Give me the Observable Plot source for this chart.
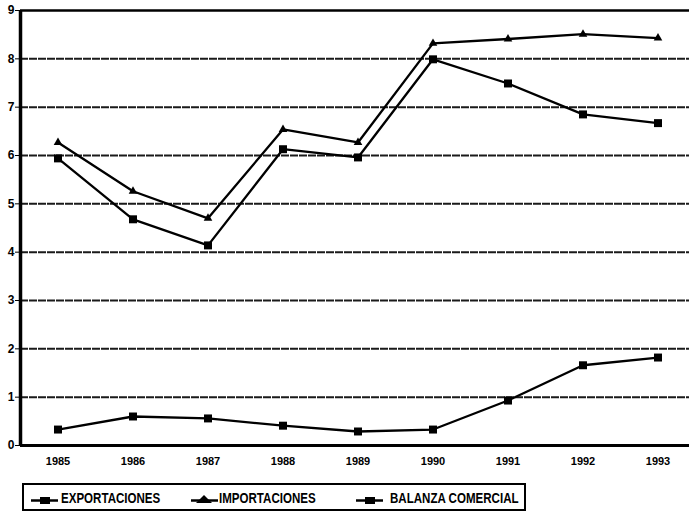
<!DOCTYPE html>
<html><head><meta charset="utf-8">
<script src="https://cdn.jsdelivr.net/npm/d3@7"></script>
<script src="https://cdn.jsdelivr.net/npm/@observablehq/plot@0.6"></script>
<style>
html,body{margin:0;padding:0;background:#fff;}
#wrap{position:relative;width:689px;height:523px;overflow:hidden;font-family:"Liberation Sans",Arial,sans-serif;}
#legend{position:absolute;left:22px;top:483px;width:504px;height:28px;border:2px solid #000;box-sizing:border-box;}
.mk{position:absolute;top:7px;}
.lt{position:absolute;top:4px;font-weight:bold;font-size:15px;line-height:17px;white-space:nowrap;transform-origin:0 50%;transform:scaleX(0.77);color:#000;}
</style>
</head><body>
<div id="wrap"><div id="chart"></div><div id="legend"></div></div>
<script>
const years = [1985,1986,1987,1988,1989,1990,1991,1992,1993];
const exportaciones = [5.94,4.68,4.14,6.13,5.96,7.99,7.49,6.85,6.67];
const importaciones = [6.27,5.26,4.70,6.54,6.27,8.32,8.41,8.51,8.43];
const balanza = [0.33,0.60,0.56,0.41,0.29,0.33,0.93,1.66,1.82];
const yTicks = [0,1,2,3,4,5,6,7,8,9];
const seriesNames = ["EXPORTACIONES","IMPORTACIONES","BALANZA COMERCIAL"];

const rows = (vals, s) => years.map((y,i)=>({year:y, value:vals[i], series:s}));
const exp = rows(exportaciones, seriesNames[0]);
const imp = rows(importaciones, seriesNames[1]);
const bal = rows(balanza, seriesNames[2]);

const chart = Plot.plot({
  width: 689,
  height: 470,
  marginLeft: 20,
  marginRight: 0,
  marginTop: 10,
  marginBottom: 25,
  style: {fontFamily: '"Liberation Sans",Arial,sans-serif', fontWeight: "bold", fontSize: "10px", color: "#000", background: "#fff"},
  x: {domain: [1984.5, 1993.5], range: [20, 695], label: null},
  y: {domain: [0, 9], label: null},
  marks: [
    Plot.ruleY(yTicks.filter(t => t > 0 && t < 9), {stroke: "#1a1a1a", strokeWidth: 2, strokeDasharray: "8,1"}),
    Plot.ruleY([9], {stroke: "#000", strokeWidth: 2.5}),
    Plot.ruleY([0], {stroke: "#000", strokeWidth: 3}),
    Plot.ruleX([1984.5], {stroke: "#000", strokeWidth: 3.5}),
    Plot.line(exp, {x: "year", y: "value", stroke: "#000", strokeWidth: 2.3}),
    Plot.line(imp, {x: "year", y: "value", stroke: "#000", strokeWidth: 2.3}),
    Plot.line(bal, {x: "year", y: "value", stroke: "#000", strokeWidth: 2.3}),
    Plot.dot(exp, {x: "year", y: "value", symbol: "square", r: 4.5, fill: "#000"}),
    Plot.dot(imp, {x: "year", y: "value", symbol: "triangle", r: 3.2, fill: "#000"}),
    Plot.dot(bal, {x: "year", y: "value", symbol: "square", r: 4.5, fill: "#000"}),
    Plot.axisX({ticks: years, tickFormat: d => String(d), tickSize: 0, tickPadding: 12, fontWeight: "bold", fontSize: 11}),
    Plot.axisY({ticks: yTicks, tickSize: 5, tickPadding: 1, fontWeight: "bold", fontSize: 12})
  ]
});
document.getElementById("chart").appendChild(chart);

const legend = document.getElementById("legend");
const mx = [6, 166, 331];
const tx = [37, 195, 366];
seriesNames.forEach((name, i) => {
  const m = document.createElement("div");
  m.className = "mk";
  m.style.left = mx[i] + "px";
  const shape = i === 1
    ? '<polygon points="14,0 22,8 6,8" fill="#000"/>'
    : '<rect x="10" y="2" width="10" height="7" fill="#000"/>';
  m.innerHTML = '<svg width="30" height="11"><line x1="1" x2="28" y1="5.5" y2="5.5" stroke="#000" stroke-width="2.5"/>' + shape + '</svg>';
  legend.appendChild(m);
  const t = document.createElement("div");
  t.className = "lt";
  t.style.left = tx[i] + "px";
  t.textContent = name;
  legend.appendChild(t);
});
</script>
</body></html>
